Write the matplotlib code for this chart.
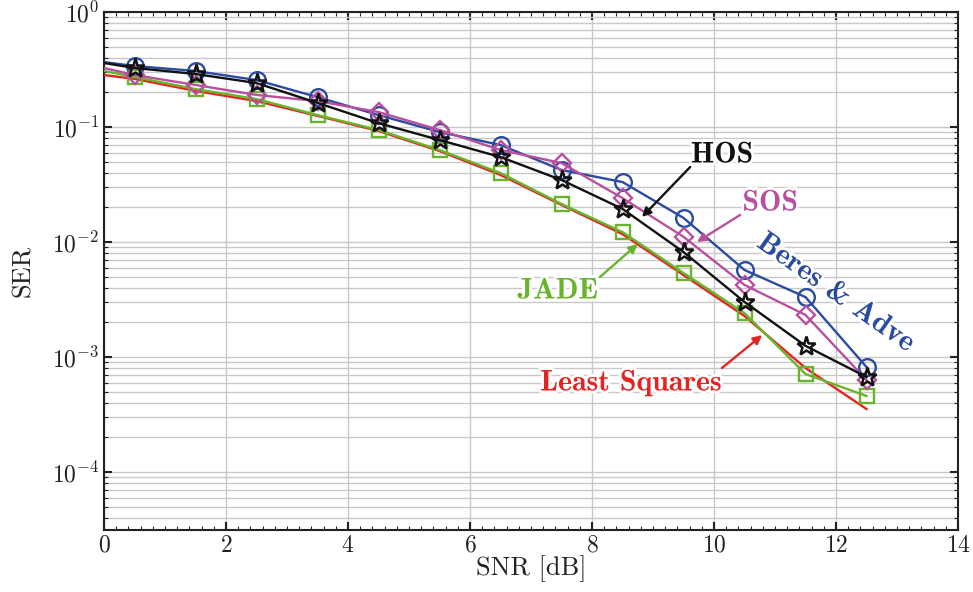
import numpy as np
import matplotlib
matplotlib.use("Agg")
import matplotlib.pyplot as plt
from matplotlib.ticker import LogLocator, MultipleLocator, NullFormatter
import matplotlib.patheffects as pe

plt.rcParams['mathtext.fontset'] = 'cm'
plt.rcParams['font.family'] = ['cmr10', 'DejaVu Serif']
plt.rcParams['axes.formatter.use_mathtext'] = True

snr = [0, 0.5, 1.5, 2.5, 3.5, 4.5, 5.5, 6.5, 7.5, 8.5, 9.5, 10.5, 11.5, 12.5]
ser_beres = [0.367, 0.339, 0.307, 0.256, 0.182, 0.127, 0.0905, 0.0697, 0.0423, 0.0332, 0.0162, 0.00571, 0.00332, 0.000818]
ser_sos = [0.326, 0.283, 0.232, 0.190, 0.168, 0.135, 0.0942, 0.0631, 0.0486, 0.0241, 0.0111, 0.00423, 0.00232, 0.000631]
ser_hos = [0.360, 0.326, 0.289, 0.241, 0.162, 0.108, 0.0771, 0.0548, 0.0346, 0.0194, 0.00818, 0.00301, 0.00125, 0.00067]
ser_jade = [0.307, 0.272, 0.214, 0.175, 0.127, 0.0942, 0.0631, 0.0398, 0.0214, 0.0122, 0.00537, 0.00241, 0.000711, 0.000458]
ser_ls = [0.283, 0.262, 0.206, 0.168, 0.125, 0.0923, 0.0618, 0.0383, 0.0210, 0.0117, 0.00516, 0.00227, 0.000802, 0.000353]

c_blue = '#2b4ba0'
c_pink = '#b8509f'
c_black = '#111111'
c_green = '#6ab42d'
c_red = '#e52421'

fig = plt.figure(figsize=(9.73, 5.92), dpi=100)
ax = fig.add_axes([104/973, 1-530/592, 854/973, 518/592])

me = list(range(1, len(snr)))
ax.plot(snr, ser_ls, color=c_red, lw=1.7, zorder=3)
ax.plot(snr, ser_jade, color=c_green, lw=1.7, marker='s', ms=9.5, mfc='none', mew=1.7, markevery=me, zorder=4)
ax.plot(snr, ser_beres, color=c_blue, lw=1.7, marker='o', ms=12, mfc='none', mew=1.7, markevery=me, zorder=4)
ax.plot(snr, ser_sos, color=c_pink, lw=1.7, marker='D', ms=9, mfc='none', mew=1.7, markevery=me, zorder=5)
ax.plot(snr, ser_hos, color=c_black, lw=1.7, marker='*', ms=14, mfc='none', mew=1.8, markevery=me, zorder=6)

ax.set_yscale('log')
ax.set_xlim(0, 14)
ax.set_ylim(3.13e-5, 1)
ax.xaxis.set_major_locator(MultipleLocator(2))
ax.xaxis.set_minor_locator(MultipleLocator(0.2))
ax.yaxis.set_major_locator(LogLocator(base=10, numticks=10))
ax.yaxis.set_minor_locator(LogLocator(base=10, subs=np.arange(2, 10), numticks=20))
ax.yaxis.set_minor_formatter(NullFormatter())

ax.grid(True, which='major', axis='x', color='#c8c8c8', lw=1.0)
ax.grid(True, which='both', axis='y', color='#c8c8c8', lw=1.0)
ax.set_axisbelow(True)

ax.tick_params(which='both', direction='in', top=True, right=True, labelsize=17, colors='#222222')
ax.tick_params(which='major', length=6, width=1.5)
ax.tick_params(which='minor', length=3, width=0.8)
for s in ax.spines.values():
    s.set_linewidth(1.5)
    s.set_color('#222222')

ax.set_xlabel('SNR [dB]', fontsize=19, labelpad=-1, color='#222222')
ax.set_ylabel('SER', fontsize=19, labelpad=12, color='#222222')

halo = [pe.withStroke(linewidth=4, foreground='white')]
tfont = dict(fontsize=21.5, family=['cmb10', 'DejaVu Serif'], ha='center', va='center', path_effects=halo, zorder=10)
arw = lambda c: dict(arrowstyle='-|>', color=c, lw=1.7, mutation_scale=13, shrinkA=0, shrinkB=0)

ax.annotate('', xy=(8.82, 0.0165), xytext=(9.61, 0.0449), arrowprops=arw(c_black), zorder=9)
ax.text(10.13, 0.0571, 'HOS', color=c_black, **tfont)

ax.annotate('', xy=(9.72, 0.0100), xytext=(10.43, 0.0172), arrowprops=arw(c_pink), zorder=9)
ax.text(10.92, 0.0218, 'SOS', color=c_pink, **tfont)

ax.text(12.0, 0.0036, 'Beres & Adve', color=c_blue, rotation=-35, rotation_mode='anchor', **tfont)

ax.annotate('', xy=(8.75, 0.00961), xytext=(8.13, 0.00496), arrowprops=arw(c_green), zorder=9)
ax.text(7.44, 0.00375, 'JADE', color=c_green, **tfont)

ax.annotate('', xy=(10.79, 0.00155), xytext=(10.13, 0.000802), arrowprops=arw(c_red), zorder=9)
ax.text(8.64, 0.000594, 'Least Squares', color=c_red, **tfont)

fig.savefig('out.png', dpi=100)
